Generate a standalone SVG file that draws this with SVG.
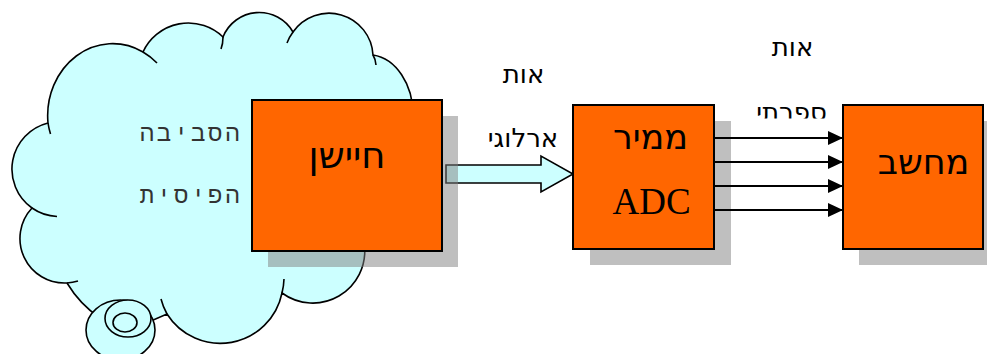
<svg xmlns="http://www.w3.org/2000/svg" width="987" height="354" viewBox="0 0 987 354">
<style>
.cloud{fill:#CCFFFF;stroke:#000;stroke-width:1.6}
.tail{fill:none;stroke:#000;stroke-width:1.6}
.shadow{fill:#808080;fill-opacity:0.5}
.box{fill:#FF6600;stroke:#000;stroke-width:2}
.heb{font-family:"DejaVu Sans","Noto Sans",sans-serif;fill:#000;text-anchor:middle}
.env{font-family:"DejaVu Sans Mono","Liberation Mono",monospace;font-size:24px;letter-spacing:2.7px;fill:#333;text-anchor:middle}
.lbl{font-family:"DejaVu Sans","Noto Sans",sans-serif;font-size:26px;fill:#000;text-anchor:middle}
.wire{stroke:#000;stroke-width:2;fill:none}
</style>
<defs>
<marker id="ah" markerWidth="15" markerHeight="14" refX="15" refY="7" orient="auto" markerUnits="userSpaceOnUse">
<path d="M0,0 L15,7 L0,14 Z" fill="#000"/>
</marker>
<clipPath id="clipDig"><rect x="700" y="90" width="160" height="28.5"/></clipPath>
</defs>

<g id="environment">
<path class="cloud" d="M48,123 A65 72 0 0 1 143,52 A50 50 0 0 1 223,37 A39 39 0 0 1 293,32 A44 44 0 0 1 373,55 A45 60 0 0 1 413,115 L413,230 L364.4,245 A52 52 0 0 1 282,293 A63 63 0 0 1 167,314 L151,321 L110,325 L100,318 A113 113 0 0 1 67,283 A44.6 44.6 0 0 1 32,208 A47.6 47.6 0 0 1 48,123 Z"/>
<path class="tail" d="M48,123 A65 72 0 0 0 50.5,134"/>
<path class="tail" d="M143,52 A65 72 0 0 1 157,63"/>
<path class="tail" d="M223,37 Q223,44 221,49"/>
<path class="tail" d="M293,32 A44 44 0 0 0 287,43"/>
<path class="tail" d="M373,55 Q375.5,59 376,65"/>
<path class="tail" d="M32,208 A47.6 47.6 0 0 0 57,216.5"/>
<path class="tail" d="M67,283 A44.6 44.6 0 0 0 78,281"/>
<path class="tail" d="M282,293 A63 63 0 0 0 284,279"/>
<path class="tail" d="M167,314 A63 63 0 0 1 161,299"/>
<ellipse class="cloud" cx="120.5" cy="330" rx="34.5" ry="30"/>
<ellipse class="cloud" cx="128" cy="318.5" rx="23" ry="18.5"/>
<ellipse class="cloud" cx="125" cy="322.5" rx="12" ry="9.5"/>
<text class="env" x="191" y="141">הסביבה</text>
<text class="env" x="191" y="203">הפיסית</text>
</g>

<g id="connectors">
<path d="M446,165 L541,165 L541,156 L573,174 L541,192 L541,183 L446,183 Z" fill="#CCFFFF" stroke="#000" stroke-width="1.6"/>
</g>

<g id="shadows">
<rect class="shadow" x="268" y="116" width="190" height="151"/>
<rect class="shadow" x="590" y="121" width="141" height="144"/>
<rect class="shadow" x="859" y="121" width="128" height="144"/>
</g>

<g id="sensor">
<rect class="box" x="252" y="100" width="190" height="151"/>
<text class="heb" x="347" y="168" font-size="37">חיישן</text>
</g>

<g id="adc">
<rect class="box" x="573" y="105" width="141" height="144"/>
<text class="heb" x="650.5" y="149" font-size="35">ממיר</text>
<text x="651.5" y="214" font-family="'Liberation Serif','Times New Roman',serif" font-size="37" text-anchor="middle" fill="#000">ADC</text>
</g>

<g id="computer">
<rect class="box" x="843" y="105" width="140" height="144"/>
<text class="heb" x="923.5" y="174" font-size="35">מחשב</text>
</g>

<g id="digital-lines">
<line class="wire" x1="714" y1="138" x2="843" y2="138" marker-end="url(#ah)"/>
<line class="wire" x1="714" y1="162" x2="843" y2="162" marker-end="url(#ah)"/>
<line class="wire" x1="714" y1="186" x2="843" y2="186" marker-end="url(#ah)"/>
<line class="wire" x1="714" y1="210" x2="843" y2="210" marker-end="url(#ah)"/>
</g>

<g id="labels">
<text class="lbl" x="523.5" y="83">אות</text>
<text class="lbl" x="523" y="147">ארלוגי</text>
<text class="lbl" x="792.5" y="56">אות</text>
<text class="lbl" x="791.5" y="121" clip-path="url(#clipDig)">ספרתי</text>
</g>
</svg>
